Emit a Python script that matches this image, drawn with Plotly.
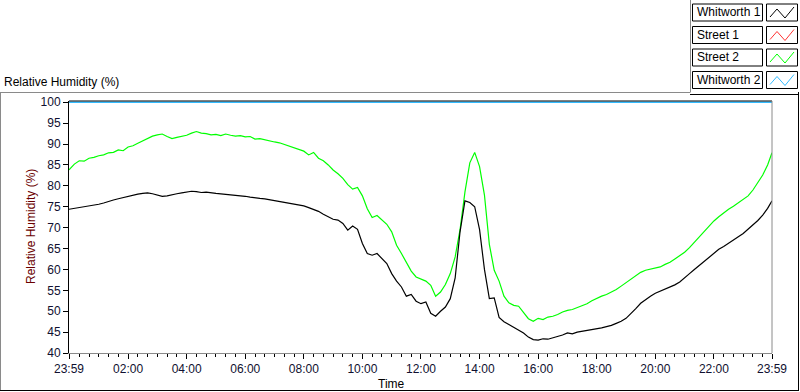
import plotly.graph_objects as go
from datetime import datetime, timedelta

# ---------------- data ----------------
series_names = ["Whitworth 1", "Street 1", "Street 2", "Whitworth 2"]
series_colors = ["#000000", "#ff3333", "#00ff00", "#33bbff"]

times = ["23:59",
 "00:10","00:20","00:30","00:40","00:50","01:00","01:10","01:20","01:30","01:40","01:50",
 "02:00","02:10","02:20","02:30","02:40","02:50","03:00","03:10","03:20","03:30","03:40","03:50",
 "04:00","04:10","04:20","04:30","04:40","04:50","05:00","05:10","05:20","05:30","05:40","05:50",
 "06:00","06:10","06:20","06:30","06:40","06:50","07:00","07:10","07:20","07:30","07:40","07:50",
 "08:00","08:10","08:20","08:30","08:40","08:50","09:00","09:10","09:20","09:30","09:40","09:50",
 "10:00","10:10","10:20","10:30","10:40","10:50","11:00","11:10","11:20","11:30","11:40","11:50",
 "12:00","12:10","12:20","12:30","12:40","12:50","13:00","13:10","13:20","13:30","13:40","13:50",
 "14:00","14:10","14:20","14:30","14:40","14:50","15:00","15:10","15:20","15:30","15:40","15:50",
 "16:00","16:10","16:20","16:30","16:40","16:50","17:00","17:10","17:20","17:30","17:40","17:50",
 "18:00","18:10","18:20","18:30","18:40","18:50","19:00","19:10","19:20","19:30","19:40","19:50",
 "20:00","20:10","20:20","20:30","20:40","20:50","21:00","21:10","21:20","21:30","21:40","21:50",
 "22:00","22:10","22:20","22:30","22:40","22:50","23:00","23:10","23:20","23:30","23:40","23:50",
 "23:59"]

street2 = [83.8,
 85.2,86.0,85.9,86.6,86.8,87.2,87.4,87.9,88.0,88.6,88.4,
 89.3,89.6,90.2,90.8,91.4,91.9,92.2,92.4,91.8,91.3,91.6,91.9,
 92.1,92.6,93.0,92.6,92.5,92.2,92.3,92.0,92.4,92.1,91.9,92.0,
 91.7,91.8,91.2,91.3,91.0,90.7,90.5,90.3,89.9,89.6,89.2,88.7,
 88.3,87.4,88.0,86.6,86.0,85.0,83.8,82.9,81.8,80.3,79.2,79.6,
 77.6,74.5,72.4,72.9,71.8,70.8,69.0,65.8,63.8,61.8,59.6,58.2,
 57.6,57.2,56.2,53.6,54.6,56.4,59.0,63.0,69.5,78.5,85.5,88.0,
 84.6,77.8,66.0,59.8,57.2,53.6,52.0,51.4,51.2,49.6,48.2,47.6,
 48.3,48.0,48.6,48.8,49.2,49.8,50.2,50.4,50.9,51.3,51.8,52.5,
 53.1,53.6,54.0,54.6,55.2,56.0,56.8,57.8,58.6,59.3,59.8,60.1,
 60.3,60.6,61.2,61.7,62.5,63.3,64.1,65.2,66.5,67.7,69.0,70.4,
 71.6,72.6,73.6,74.4,75.1,75.9,76.6,77.6,79.0,80.7,82.6,85.0,
 87.9]

whitworth1 = [74.4,
 74.6,74.9,75.0,75.1,75.3,75.6,75.9,76.3,76.6,76.9,77.2,
 77.4,77.7,78.0,78.2,78.3,78.1,77.8,77.5,77.6,77.9,78.1,78.3,
 78.5,78.7,78.6,78.4,78.5,78.3,78.2,78.1,78.0,77.8,77.7,77.6,
 77.5,77.3,77.1,77.0,76.9,76.7,76.5,76.3,76.0,75.8,75.6,75.4,
 75.2,74.8,74.3,73.9,73.2,72.6,72.0,71.8,71.0,69.4,70.4,69.6,
 66.2,63.8,63.4,63.8,62.6,61.4,59.0,57.2,55.8,53.6,54.0,52.4,
 51.8,52.2,49.5,48.8,50.0,51.0,53.0,58.0,69.0,76.4,76.0,75.0,
 69.5,60.0,53.0,53.2,48.5,47.5,46.8,46.2,45.6,44.8,43.8,43.2,
 43.1,43.4,43.3,43.6,43.9,44.3,44.8,44.6,45.0,45.2,45.3,45.5,
 45.7,46.0,46.3,46.6,47.1,47.6,48.3,49.4,50.6,51.9,52.8,53.6,
 54.3,54.8,55.2,55.7,56.3,57.0,57.9,59.0,60.0,61.0,62.0,63.0,
 64.0,64.8,65.5,66.2,67.0,67.8,68.6,69.6,70.6,71.7,73.0,74.6,
 76.4]

whitworth2_times = ["23:59", "23:59"]
whitworth2 = [100.0, 100.0]

x_tick_labels = ["23:59", "02:00", "04:00", "06:00", "08:00", "10:00", "12:00",
                 "14:00", "16:00", "18:00", "20:00", "22:00", "23:59"]
y_ticks = [40, 45, 50, 55, 60, 65, 70, 75, 80, 85, 90, 95, 100]

# ---------------- helpers ----------------
START = datetime(2020, 1, 1, 23, 59)


def to_dt(labels):
    out = []
    prev = None
    for s in labels:
        h, m = map(int, s.split(":"))
        d = datetime(2020, 1, 1, h, m)
        while d < START or (prev is not None and d <= prev):
            d += timedelta(days=1)
        out.append(d)
        prev = d
    return out


W, H = 800, 392
L, R, T, B = 69, 772, 101, 353


def px(x):
    return (x - L) / (R - L)


def py(y):
    return (B - y) / (B - T)


FONT = "Liberation Sans, Arial, sans-serif"

fig = go.Figure()
fig.add_trace(go.Scatter(x=to_dt(whitworth2_times), y=whitworth2, mode="lines",
                         line=dict(color=series_colors[3], width=1.3),
                         name=series_names[3], showlegend=False))
fig.add_trace(go.Scatter(x=to_dt(times), y=street2, mode="lines",
                         line=dict(color=series_colors[2], width=1.2),
                         name=series_names[2], showlegend=False))
fig.add_trace(go.Scatter(x=to_dt(times), y=whitworth1, mode="lines",
                         line=dict(color=series_colors[0], width=1.2),
                         name=series_names[0], showlegend=False))

tick_dts = to_dt(x_tick_labels)
x0, x1 = tick_dts[0], tick_dts[-1]

fig.update_xaxes(range=[x0, x1], type="date", tickvals=tick_dts, ticktext=x_tick_labels,
                 showgrid=False, zeroline=False, showline=True, linecolor="#8a8a8a",
                 linewidth=1, mirror=False, ticks="outside", ticklen=5, tickcolor="#000",
                 tickfont=dict(family=FONT, size=12, color="#101030"),
                 minor=dict(ticks="outside", ticklen=3, tickcolor="#000",
                            dtick=20 * 60 * 1000, tick0=datetime(2020, 1, 2, 0, 0),
                            showgrid=False))
fig.update_yaxes(range=[40, 100.3], tickvals=y_ticks, showgrid=False, zeroline=False,
                 showline=True, linecolor="#000", linewidth=1, ticks="outside", ticklen=5,
                 tickcolor="#000", tickfont=dict(family=FONT, size=12, color="#101030"))

shapes = []
shapes.append(dict(type="line", xref="paper", yref="paper", x0=0, x1=1, y0=1, y1=1,
                   line=dict(color="#000", width=1)))
shapes.append(dict(type="line", xref="paper", yref="paper", x0=1, x1=1, y0=0, y1=1,
                   line=dict(color="#8a8a8a", width=1)))
shapes.append(dict(type="line", xref="paper", yref="paper", x0=px(0), x1=px(690),
                   y0=py(92.5), y1=py(92.5), line=dict(color="#8a8a8a", width=1)))
shapes.append(dict(type="line", xref="paper", yref="paper", x0=px(0.5), x1=px(0.5),
                   y0=py(92.5), y1=py(390), line=dict(color="#8a8a8a", width=1)))
shapes.append(dict(type="line", xref="paper", yref="paper", x0=px(0), x1=px(799),
                   y0=py(390.5), y1=py(390.5), line=dict(color="#000", width=1)))
shapes.append(dict(type="line", xref="paper", yref="paper", x0=px(798.5), x1=px(798.5),
                   y0=py(92), y1=py(391), line=dict(color="#000", width=1)))
shapes.append(dict(type="line", xref="paper", yref="paper", x0=px(690.5), x1=px(690.5),
                   y0=py(0), y1=py(92.5), line=dict(color="#8a8a8a", width=1)))
shapes.append(dict(type="line", xref="paper", yref="paper", x0=px(690), x1=px(799),
                   y0=py(94.5), y1=py(94.5), line=dict(color="#000", width=1)))

annotations = []
item_tops = [4, 26.5, 49, 71.5]
for name, color, top in zip(series_names, series_colors, item_tops):
    bot = top + 17
    shapes.append(dict(type="rect", xref="paper", yref="paper", x0=px(692.5), x1=px(762.5),
                       y0=py(bot), y1=py(top), line=dict(color="#000", width=1),
                       fillcolor="#fff"))
    shapes.append(dict(type="rect", xref="paper", yref="paper", x0=px(766.5), x1=px(797.5),
                       y0=py(bot), y1=py(top), line=dict(color="#000", width=1),
                       fillcolor="#fff"))
    pts = [(770, top + 13), (777, top + 5), (785, top + 14), (794, top + 3)]
    path = "M " + " L ".join(f"{px(a)},{py(b)}" for a, b in pts)
    shapes.append(dict(type="path", xref="paper", yref="paper", path=path,
                       line=dict(color=color, width=1)))
    annotations.append(dict(text=name, xref="paper", yref="paper", x=px(695),
                            y=py(top + 8.5), xanchor="left", yanchor="middle",
                            showarrow=False, font=dict(family=FONT, size=12, color="#000")))

annotations.append(dict(text="Relative Humidity (%)", xref="paper", yref="paper", x=px(2),
                        y=py(82), xanchor="left", yanchor="middle", showarrow=False,
                        font=dict(family=FONT, size=12, color="#000")))
annotations.append(dict(text="Relative Humidity (%)", xref="paper", yref="paper", x=px(31),
                        y=py(227), xanchor="center", yanchor="middle", showarrow=False,
                        textangle=-90, font=dict(family=FONT, size=12, color="#6a0000")))
annotations.append(dict(text="Time", xref="paper", yref="paper", x=px(391), y=py(384),
                        xanchor="center", yanchor="middle", showarrow=False,
                        font=dict(family=FONT, size=12, color="#000")))

fig.update_layout(width=W, height=H, margin=dict(l=L, r=W - R, t=T, b=H - B),
                  paper_bgcolor="#fff", plot_bgcolor="#fff", showlegend=False,
                  shapes=shapes, annotations=annotations)

fig.write_html("out.html", config={"displayModeBar": False},
               post_script="document.body.style.margin='0';document.body.style.overflow='hidden';")
